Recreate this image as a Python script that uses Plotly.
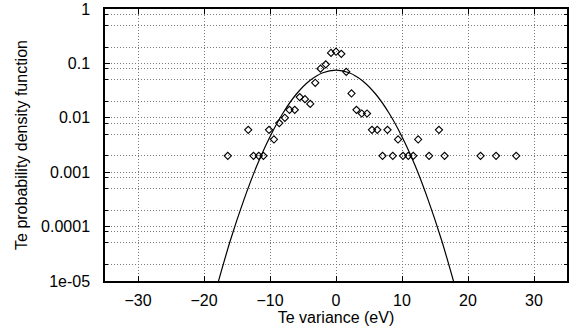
import plotly.graph_objects as go

# Measured histogram points (Te variance in eV, probability density)
te_var = [-16.4, -13.3, -12.5, -11.7, -11.0, -10.15, -9.4, -8.6, -7.75, -7.05,
          -6.25, -5.5, -4.7, -3.9, -3.15, -2.35, -1.55, -0.75, 0.0, 0.8,
          1.55, 2.35, 3.1, 3.9, 4.7, 5.45, 6.25, 7.05, 7.8, 8.6,
          9.4, 10.15, 10.95, 11.7, 12.45, 14.1, 15.6, 16.45, 21.9, 24.25, 27.3]
pdf_vals = [0.002, 0.006, 0.002, 0.002, 0.002, 0.006, 0.004, 0.008, 0.010, 0.014,
            0.014, 0.024, 0.022, 0.018, 0.044, 0.080, 0.096, 0.156, 0.164, 0.150,
            0.070, 0.028, 0.014, 0.012, 0.012, 0.006, 0.006, 0.002, 0.006, 0.002,
            0.004, 0.002, 0.002, 0.002, 0.004, 0.002, 0.006, 0.002, 0.002, 0.002, 0.002]

# Fitted curve
curve_x = [-18, -16, -14, -12, -10, -8, -6, -4, -2, 0, 2, 4, 6, 8, 10, 12, 14, 16, 18]
curve_y = [8.2e-6, 5.6e-5, 3.0e-4, 1.31e-3, 4.5e-3, 1.24e-2, 2.74e-2, 4.81e-2, 6.75e-2, 7.55e-2,
           6.75e-2, 4.81e-2, 2.74e-2, 1.24e-2, 4.5e-3, 1.31e-3, 3.0e-4, 5.6e-5, 8.2e-6]

x_ticks = [-30, -20, -10, 0, 10, 20, 30]
y_ticks = [1e-5, 1e-4, 1e-3, 1e-2, 1e-1, 1]
y_ticktext = ["1e-05", "0.0001", "0.001", "0.01", "0.1", "1"]
y_minor = [m * 10.0 ** k for k in range(-5, 0) for m in (2, 5, 8)]

font = dict(family="Liberation Sans, Arial, sans-serif", size=16, color="black")
GRID_COLOR = "#7a7a7a"
GRID_DASH = "1px,2px"

fig = go.Figure()
fig.add_trace(go.Scatter(x=curve_x, y=curve_y, mode="lines",
                         line=dict(color="black", width=1.2, shape="spline"),
                         showlegend=False, hoverinfo="skip"))
fig.add_trace(go.Scatter(x=te_var, y=pdf_vals, mode="markers",
                         marker=dict(symbol="diamond-open", size=5.5, color="black",
                                     line=dict(width=1.1, color="black")),
                         showlegend=False))

grid = dict(showgrid=True, gridcolor=GRID_COLOR, griddash=GRID_DASH, gridwidth=1)
fig.update_xaxes(range=[-35, 35], tickvals=x_ticks, ticks="inside", ticklen=5,
                 tickcolor="black", showline=True, linecolor="black", linewidth=1.5,
                 mirror="ticks", zeroline=False, tickfont=font, ticklabelstandoff=4,
                 title=dict(text="Te variance (eV)", font=font, standoff=0),
                 **grid)
fig.update_yaxes(type="log", range=[-5, 0], tickvals=y_ticks, ticktext=y_ticktext,
                 ticks="inside", ticklen=5, tickcolor="black", showline=True,
                 linecolor="black", linewidth=1.5, mirror="ticks", zeroline=False,
                 tickfont=font, ticklabelstandoff=10, ticklabeloverflow="allow",
                 title=dict(text="Te probability density function", font=font, standoff=10),
                 minor=dict(tickvals=y_minor, ticks="inside", ticklen=3, tickcolor="black",
                            showgrid=True, gridcolor=GRID_COLOR, griddash=GRID_DASH, gridwidth=1),
                 **grid)
fig.update_layout(width=570, height=328, margin=dict(l=105, r=1, t=6, b=47),
                  plot_bgcolor="white", paper_bgcolor="white", font=font)
fig.write_html("out.html")
